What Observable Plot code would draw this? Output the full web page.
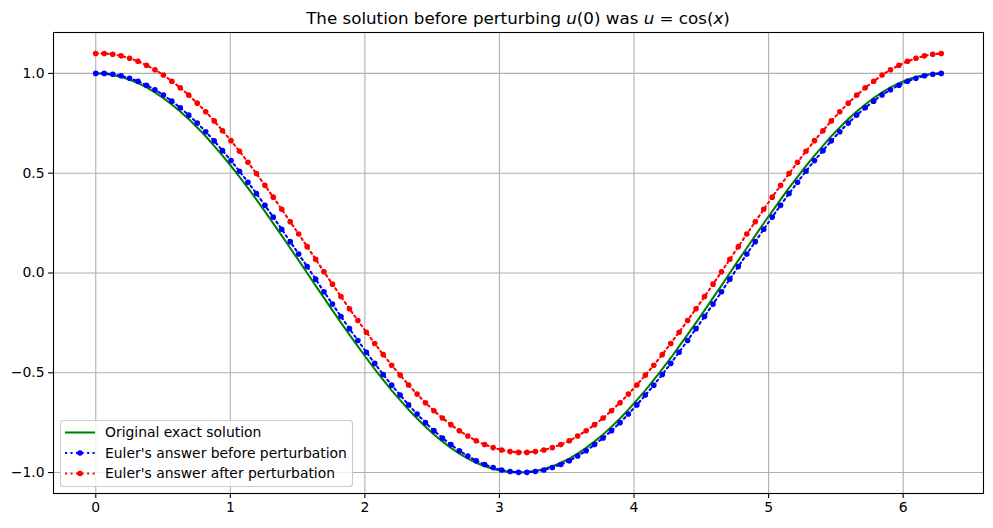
<!DOCTYPE html>
<html><head><meta charset="utf-8">
<script src="https://cdn.jsdelivr.net/npm/d3@7"></script>
<script src="https://cdn.jsdelivr.net/npm/@observablehq/plot@0.6"></script>
<style>
body{margin:0;background:#fff;}
#chart svg{font-family:"DejaVu Sans",sans-serif;display:block;}
</style>
</head><body><div id="chart"></div>
<script>
const xs = [0.000,0.063,0.126,0.188,0.251,0.314,0.377,0.440,0.503,0.565,0.628,0.691,0.754,0.817,0.880,0.942,1.005,1.068,1.131,1.194,1.257,1.319,1.382,1.445,1.508,1.571,1.634,1.696,1.759,1.822,1.885,1.948,2.011,2.073,2.136,2.199,2.262,2.325,2.388,2.450,2.513,2.576,2.639,2.702,2.765,2.827,2.890,2.953,3.016,3.079,3.142,3.204,3.267,3.330,3.393,3.456,3.519,3.581,3.644,3.707,3.770,3.833,3.896,3.958,4.021,4.084,4.147,4.210,4.273,4.335,4.398,4.461,4.524,4.587,4.650,4.712,4.775,4.838,4.901,4.964,5.027,5.089,5.152,5.215,5.278,5.341,5.404,5.466,5.529,5.592,5.655,5.718,5.781,5.843,5.906,5.969,6.032,6.095,6.158,6.220,6.283];
const exact = [1.000,0.998,0.992,0.982,0.969,0.951,0.930,0.905,0.876,0.844,0.809,0.771,0.729,0.685,0.637,0.588,0.536,0.482,0.426,0.368,0.309,0.249,0.187,0.125,0.063,0.000,-0.063,-0.125,-0.187,-0.249,-0.309,-0.368,-0.426,-0.482,-0.536,-0.588,-0.637,-0.685,-0.729,-0.771,-0.809,-0.844,-0.876,-0.905,-0.930,-0.951,-0.969,-0.982,-0.992,-0.998,-1.000,-0.998,-0.992,-0.982,-0.969,-0.951,-0.930,-0.905,-0.876,-0.844,-0.809,-0.771,-0.729,-0.685,-0.637,-0.588,-0.536,-0.482,-0.426,-0.368,-0.309,-0.249,-0.187,-0.125,-0.063,0.000,0.063,0.125,0.187,0.249,0.309,0.368,0.426,0.482,0.536,0.588,0.637,0.685,0.729,0.771,0.809,0.844,0.876,0.905,0.930,0.951,0.969,0.982,0.992,0.998,1.000];
const before = [1.000,1.000,0.996,0.988,0.976,0.961,0.941,0.918,0.892,0.861,0.828,0.791,0.751,0.708,0.662,0.613,0.563,0.510,0.455,0.398,0.339,0.280,0.219,0.157,0.095,0.032,-0.031,-0.094,-0.156,-0.218,-0.279,-0.338,-0.397,-0.453,-0.509,-0.562,-0.612,-0.661,-0.707,-0.750,-0.790,-0.827,-0.860,-0.891,-0.917,-0.941,-0.960,-0.975,-0.987,-0.995,-0.999,-0.999,-0.995,-0.987,-0.975,-0.960,-0.941,-0.917,-0.891,-0.860,-0.827,-0.790,-0.750,-0.707,-0.661,-0.612,-0.562,-0.509,-0.453,-0.397,-0.338,-0.279,-0.218,-0.156,-0.094,-0.031,0.032,0.095,0.157,0.219,0.280,0.339,0.398,0.455,0.510,0.563,0.613,0.662,0.708,0.751,0.791,0.828,0.861,0.892,0.918,0.941,0.961,0.976,0.988,0.996,1.000];
const after = [1.100,1.100,1.096,1.088,1.076,1.061,1.041,1.018,0.992,0.961,0.928,0.891,0.851,0.808,0.762,0.713,0.663,0.610,0.555,0.498,0.439,0.380,0.319,0.257,0.195,0.132,0.069,0.006,-0.056,-0.118,-0.179,-0.238,-0.297,-0.353,-0.409,-0.462,-0.512,-0.561,-0.607,-0.650,-0.690,-0.727,-0.760,-0.791,-0.817,-0.841,-0.860,-0.875,-0.887,-0.895,-0.899,-0.899,-0.895,-0.887,-0.875,-0.860,-0.841,-0.817,-0.791,-0.760,-0.727,-0.690,-0.650,-0.607,-0.561,-0.512,-0.462,-0.409,-0.353,-0.297,-0.238,-0.179,-0.118,-0.056,0.006,0.069,0.132,0.195,0.257,0.319,0.380,0.439,0.498,0.555,0.610,0.663,0.713,0.762,0.808,0.851,0.891,0.928,0.961,0.992,1.018,1.041,1.061,1.076,1.088,1.096,1.100];
const xTicks = [0,1,2,3,4,5,6];
const yTicks = [-1.0,-0.5,0.0,0.5,1.0];
const seriesNames = ["Original exact solution","Euler's answer before perturbation","Euler's answer after perturbation"];
const seriesColors = ["#008000","#0000ff","#ff0000"];

const toRows = ys => xs.map((x,i)=>({x, y: ys[i]}));
const dExact = toRows(exact), dBefore = toRows(before), dAfter = toRows(after);

const LW = 2.08, DASH = "2.08,3.44";
const chart = Plot.plot({
  width: 993, height: 528,
  marginLeft: 53, marginRight: 10, marginTop: 32, marginBottom: 35,
  style: {fontFamily: "DejaVu Sans, sans-serif", fontSize: "13.9px", color: "black", background: "white"},
  x: {domain: [-0.314, 6.597], label: null},
  y: {domain: [-1.105, 1.205], label: null},
  marks: [
    Plot.gridX(xTicks, {stroke: "#b0b0b0", strokeOpacity: 1, strokeWidth: 1.1}),
    Plot.gridY(yTicks, {stroke: "#b0b0b0", strokeOpacity: 1, strokeWidth: 1.1}),
    Plot.axisX(xTicks, {tickSize: 4.9, tickPadding: 4, tickFormat: d3.format("d"), strokeWidth: 1.1, fontSize: 13.9, label: null}),
    Plot.axisY(yTicks, {tickSize: 4.9, tickPadding: 4, tickFormat: d3.format(".1f"), strokeWidth: 1.1, fontSize: 13.9, label: null}),
    Plot.line(dExact, {x: "x", y: "y", stroke: seriesColors[0], strokeWidth: LW}),
    Plot.line(dBefore, {x: "x", y: "y", stroke: seriesColors[1], strokeWidth: LW, strokeDasharray: DASH}),
    Plot.dot(dBefore, {x: "x", y: "y", fill: seriesColors[1], r: 2.8}),
    Plot.line(dAfter, {x: "x", y: "y", stroke: seriesColors[2], strokeWidth: LW, strokeDasharray: DASH}),
    Plot.dot(dAfter, {x: "x", y: "y", fill: seriesColors[2], r: 2.8}),
    Plot.frame({stroke: "black", strokeWidth: 1.1})
  ]
});
document.getElementById("chart").appendChild(chart);

const svg = d3.select(chart);
// Title
const t = svg.append("text").attr("x", 518).attr("y", 24).attr("text-anchor", "middle")
  .attr("font-size", "16.7px").attr("fill", "black").attr("font-family", "DejaVu Sans, sans-serif");
t.append("tspan").text("The solution before perturbing ");
t.append("tspan").attr("font-style", "italic").text("u");
t.append("tspan").text("(0) was ");
t.append("tspan").attr("font-style", "italic").text("u");
t.append("tspan").text(" = cos(");
t.append("tspan").attr("font-style", "italic").text("x");
t.append("tspan").text(")");

// Legend
const lg = svg.append("g").attr("text-anchor", "start");
lg.append("rect").attr("x", 60.5).attr("y", 420.5).attr("width", 292).attr("height", 66)
  .attr("rx", 3).attr("fill", "white").attr("fill-opacity", 0.8).attr("stroke", "#cccccc").attr("stroke-width", 1.1);
const rowsY = [432.5, 453, 473.5];
seriesNames.forEach((name, i) => {
  const y = rowsY[i];
  const ln = lg.append("line").attr("x1", 65).attr("x2", 95).attr("y1", y).attr("y2", y)
    .attr("stroke", seriesColors[i]).attr("stroke-width", LW);
  if (i > 0) {
    ln.attr("stroke-dasharray", DASH);
    lg.append("circle").attr("cx", 80).attr("cy", y).attr("r", 2.8).attr("fill", seriesColors[i]);
  }
  lg.append("text").attr("x", 105).attr("y", y).attr("dy", "0.35em").attr("font-size", "13.9px")
    .attr("text-anchor", "start").attr("fill", "black").text(name);
});
</script>
</body></html>
